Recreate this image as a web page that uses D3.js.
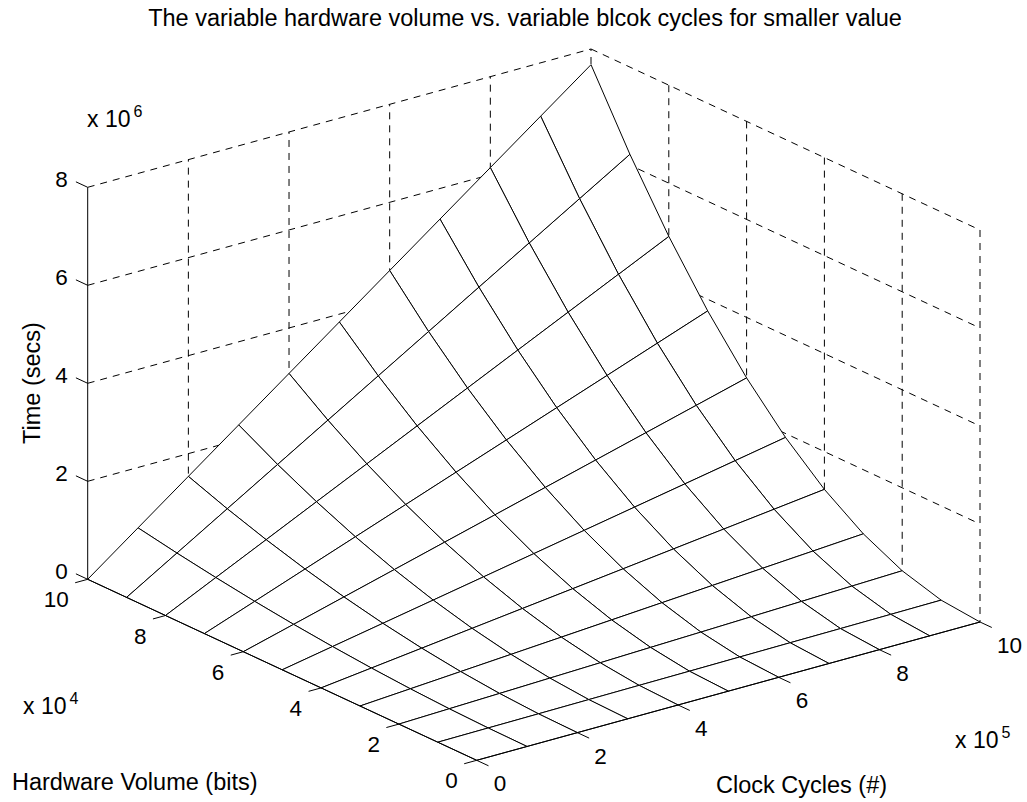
<!DOCTYPE html>
<html>
<head>
<meta charset="utf-8">
<script src="https://cdn.jsdelivr.net/npm/d3@7/dist/d3.min.js"></script>
<style>
	html, body { margin: 0; padding: 0; background: #fff; }
	svg text { font-family: "Liberation Sans", Arial, Helvetica, sans-serif; fill: #000; }
</style>
</head>
<body>
<svg id="chart" width="1027" height="802"></svg>
<script>

var hwValues   = [0, 1, 2, 3, 4, 5, 6, 7, 8, 9, 10];   // x 10^4 bits
var ccValues   = [0, 1, 2, 3, 4, 5, 6, 7, 8, 9, 10];   // x 10^5 cycles
// Time in x 10^6 secs; one row per hardware volume, one column per clock-cycle value
var timeValues = [
	[0, 0,     0,     0,     0,     0,     0,     0,     0,     0,     0    ],
	[0, 0.008, 0.015, 0.023, 0.031, 0.038, 0.046, 0.054, 0.061, 0.069, 0.077],
	[0, 0.031, 0.061, 0.092, 0.123, 0.154, 0.184, 0.215, 0.246, 0.276, 0.307],
	[0, 0.069, 0.138, 0.207, 0.276, 0.346, 0.415, 0.484, 0.553, 0.622, 0.691],
	[0, 0.123, 0.246, 0.369, 0.492, 0.614, 0.737, 0.860, 0.983, 1.106, 1.229],
	[0, 0.192, 0.384, 0.576, 0.768, 0.960, 1.152, 1.344, 1.536, 1.728, 1.920],
	[0, 0.276, 0.553, 0.829, 1.106, 1.382, 1.659, 1.935, 2.212, 2.488, 2.765],
	[0, 0.376, 0.753, 1.129, 1.505, 1.882, 2.258, 2.634, 3.010, 3.387, 3.763],
	[0, 0.492, 0.983, 1.475, 1.966, 2.458, 2.949, 3.441, 3.932, 4.424, 4.915],
	[0, 0.622, 1.244, 1.866, 2.488, 3.110, 3.732, 4.355, 4.977, 5.599, 6.221],
	[0, 0.768, 1.536, 2.304, 3.072, 3.840, 4.608, 5.376, 6.144, 6.912, 7.680]
];
var hwTicks    = [0, 2, 4, 6, 8, 10];
var ccTicks    = [0, 2, 4, 6, 8, 10];
var timeTicks  = [0, 2, 4, 6, 8];

var TITLE      = "The variable hardware volume vs. variable blcok cycles for smaller value";

// Constants (screen layout of the 3-D box):

var ORIGIN     = [476.7, 760.3];  // hw=0, cc=0, t=0
var HW_VEC     = [-389, -181];    // full hw range on screen
var CC_VEC     = [503.3, -138.3]; // full cc range on screen
var T_VEC      = [0, -392];       // full time range on screen
var TICK_LEN   = 13;
var DASH       = "7,6";

var svg = d3.select("#chart");

var hwScale = d3.scaleLinear().domain([0, 10]).range([0, 1]);
var ccScale = d3.scaleLinear().domain([0, 10]).range([0, 1]);
var tScale  = d3.scaleLinear().domain([0, 8]).range([0, 1]);

/*---------------------------
| project 
-----------------*/

var project = function(hw, cc, t) {
	var u = hwScale(hw), v = ccScale(cc), w = tScale(t);
	return [ORIGIN[0] + u*HW_VEC[0] + v*CC_VEC[0] + w*T_VEC[0],
	        ORIGIN[1] + u*HW_VEC[1] + v*CC_VEC[1] + w*T_VEC[1]];
}

// Viewing direction = null vector of the projection (far is positive):
var DV = -HW_VEC[0] / CC_VEC[0];
var DW = -(HW_VEC[1] + CC_VEC[1]*DV) / T_VEC[1];

var depth = function(hw, cc, t) {
	return hwScale(hw) + DV*ccScale(cc) + DW*tScale(t);
}

var unit = function(vec) {
	var len = Math.hypot(vec[0], vec[1]);
	return [vec[0]/len, vec[1]/len];
}

var line = d3.line();

/*---------------------------
| back-wall grid (dashed) 
-----------------*/

var gridSegs = [];
// hw = max wall
ccTicks.filter(function(c) { return c > 0; }).forEach(function(c) {
	gridSegs.push([[10, c, 0], [10, c, 8]]);
});
timeTicks.filter(function(t) { return t > 0; }).forEach(function(t) {
	gridSegs.push([[10, 0, t], [10, 10, t]]);
});
// cc = max wall
hwTicks.filter(function(h) { return h < 10; }).forEach(function(h) {
	gridSegs.push([[h, 10, 8], [h, 10, 0]]);
});
timeTicks.filter(function(t) { return t > 0; }).forEach(function(t) {
	gridSegs.push([[10, 10, t], [0, 10, t]]);
});

svg.append("g")
	.selectAll("path")
	.data(gridSegs)
	.join("path")
	  .attr("d", function(s) { return line(s.map(function(p) { return project(p[0], p[1], p[2]); })); })
	  .attr("fill", "none")
	  .attr("stroke", "#000")
	  .attr("stroke-width", 1)
	  .attr("stroke-dasharray", DASH);

/*---------------------------
| mesh faces (painter's order) 
-----------------*/

var faces = [];
for (var i = 0; i < hwValues.length - 1; i++) {
	for (var j = 0; j < ccValues.length - 1; j++) {
		var idx = [[i, j], [i+1, j], [i+1, j+1], [i, j+1]];
		var pts = idx.map(function(k) {
			return [hwValues[k[0]], ccValues[k[1]], timeValues[k[0]][k[1]]];
		});
		var d = d3.mean(pts, function(p) { return depth(p[0], p[1], p[2]); });
		faces.push({ pts: pts, depth: d });
	}
}
faces.sort(function(a, b) { return b.depth - a.depth; });

svg.append("g")
	.selectAll("path")
	.data(faces)
	.join("path")
	  .attr("d", function(f) { return line(f.pts.map(function(p) { return project(p[0], p[1], p[2]); })) + "Z"; })
	  .attr("fill", "#fff")
	  .attr("stroke", "#000")
	  .attr("stroke-width", 1)
	  .attr("stroke-linejoin", "round");

/*---------------------------
| axes, ticks, labels 
-----------------*/

var axes = svg.append("g").attr("stroke", "#000").attr("stroke-width", 1).attr("fill", "none");
[[[10, 0, 0], [10, 0, 8]],
 [[0, 0, 0], [10, 0, 0]],
 [[0, 0, 0], [0, 10, 0]]].forEach(function(s) {
	axes.append("path").attr("d", line(s.map(function(p) { return project(p[0], p[1], p[2]); })));
});

var hwDir = unit(HW_VEC);
var ccDir = unit(CC_VEC);

var tickLine = function(p, dir) {
	axes.append("path").attr("d", line([p, [p[0] + dir[0]*TICK_LEN, p[1] + dir[1]*TICK_LEN]]));
}

var labels = svg.append("g").attr("font-size", "22.5px");

timeTicks.forEach(function(t) {
	var p = project(10, 0, t);
	tickLine(p, hwDir);
	labels.append("text")
		.attr("x", p[0] - 20).attr("y", p[1])
		.attr("text-anchor", "end")
		.text(t);
});

hwTicks.forEach(function(h) {
	var p = project(h, 0, 0);
	tickLine(p, [-ccDir[0], -ccDir[1]]);
	labels.append("text")
		.attr("x", p[0] - 19).attr("y", p[1] + 28)
		.attr("text-anchor", "end")
		.text(h);
});

ccTicks.forEach(function(c) {
	var p = project(0, c, 0);
	tickLine(p, [-hwDir[0], -hwDir[1]]);
	labels.append("text")
		.attr("x", p[0] + 17).attr("y", p[1] + 31)
		.attr("text-anchor", "start")
		.text(c);
});

// Exponent multipliers:
var multiplier = function(x, y, exp) {
	var txt = svg.append("text")
		.attr("x", x).attr("y", y)
		.attr("font-size", "23px")
		.text("x 10");
	txt.append("tspan")
		.attr("dx", 3).attr("dy", -10)
		.attr("font-size", "16px")
		.text(exp);
}
multiplier(87, 127, "6");
multiplier(23, 714, "4");
multiplier(955, 748, "5");

// Axis titles:
svg.append("text")
	.attr("x", 12).attr("y", 790)
	.attr("font-size", "23.5px")
	.text("Hardware Volume (bits)");

svg.append("text")
	.attr("x", 716).attr("y", 793)
	.attr("font-size", "23.5px")
	.text("Clock Cycles (#)");

svg.append("text")
	.attr("transform", "translate(40,383) rotate(-90)")
	.attr("text-anchor", "middle")
	.attr("font-size", "23.5px")
	.text("Time (secs)");

svg.append("text")
	.attr("x", 525).attr("y", 26)
	.attr("text-anchor", "middle")
	.attr("font-size", "23.5px")
	.text(TITLE);

</script>
</body>
</html>
